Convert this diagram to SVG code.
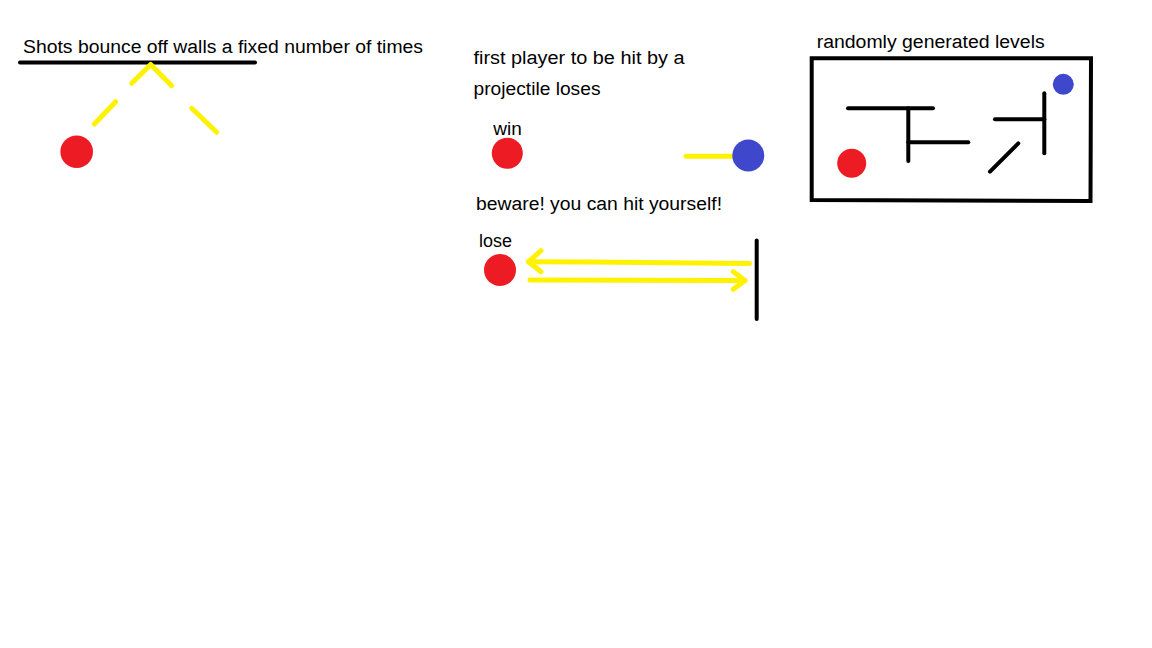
<svg xmlns="http://www.w3.org/2000/svg" width="1152" height="648" viewBox="0 0 1152 648">
<style>
text{font-family:"Liberation Sans",Arial,sans-serif;font-size:18px;fill:#000}
.blk{stroke:#000;stroke-width:4;stroke-linecap:round;fill:none}
.yel{stroke:#FFF200;stroke-width:5;stroke-linecap:round;stroke-linejoin:round;fill:none}
.red{fill:#ED1C24}
.blue{fill:#3F48CC}
</style>
<rect width="1152" height="648" fill="#fff"/>
<g id="bounce">
<text x="23" y="53" textLength="400" lengthAdjust="spacingAndGlyphs">Shots bounce off walls a fixed number of times</text>
<line class="blk" x1="20" y1="62.5" x2="255" y2="62.5"/>
<polyline class="yel" points="131.7,83.3 150.7,64.5 171.7,85.7"/>
<line class="yel" x1="94.3" y1="124" x2="115.7" y2="101.7"/>
<line class="yel" x1="191.7" y1="108.3" x2="216.7" y2="132.3"/>
<circle class="red" cx="76.7" cy="151.7" r="16.3"/>
</g>
<g id="win">
<text x="473.5" y="64" textLength="211" lengthAdjust="spacingAndGlyphs">first player to be hit by a</text>
<text x="473.5" y="95" textLength="127" lengthAdjust="spacingAndGlyphs">projectile loses</text>
<text x="493.3" y="135" textLength="28.5" lengthAdjust="spacingAndGlyphs">win</text>
<circle class="red" cx="507.3" cy="153.3" r="15.5"/>
<line class="yel" x1="686" y1="156.3" x2="735" y2="156.3"/>
<circle class="blue" cx="748.3" cy="155.5" r="16"/>
</g>
<g id="lose">
<text x="476" y="209.5" textLength="246" lengthAdjust="spacingAndGlyphs">beware! you can hit yourself!</text>
<text x="479" y="246.7" textLength="33" lengthAdjust="spacingAndGlyphs">lose</text>
<circle class="red" cx="500" cy="270" r="16"/>
<polyline class="yel" points="749.5,263.5 697,263 588,262 528.5,261.7"/>
<polyline class="yel" points="541,250.7 528.5,261.7 541,271.7"/>
<line class="yel" x1="530" y1="280" x2="745" y2="280.5"/>
<polyline class="yel" points="733.3,271.7 745,280.5 733.3,289.3"/>
<line class="blk" x1="756.7" y1="240.5" x2="756.7" y2="319"/>
</g>
<g id="levels">
<text x="816.7" y="47.7" textLength="228" lengthAdjust="spacingAndGlyphs">randomly generated levels</text>
<polygon class="blk" points="811.7,58.3 1091,58.3 1090.5,201 811.7,200"/>
<line class="blk" x1="848" y1="108.3" x2="933" y2="108.3"/>
<line class="blk" x1="908.3" y1="108.3" x2="908.3" y2="161"/>
<line class="blk" x1="908.3" y1="142.3" x2="968.3" y2="142.3"/>
<line class="blk" x1="995" y1="119.3" x2="1044.3" y2="119.3"/>
<line class="blk" x1="1044.3" y1="93.3" x2="1044.3" y2="153.3"/>
<line class="blk" x1="990" y1="171.7" x2="1018.3" y2="143.3"/>
<circle class="red" cx="851.7" cy="163.3" r="14.5"/>
<circle class="blue" cx="1063.3" cy="84.3" r="10.5"/>
</g>
</svg>
